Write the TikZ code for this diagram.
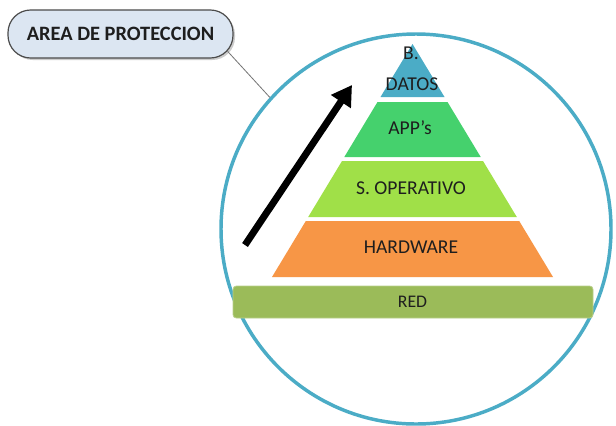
\documentclass[tikz,border=0pt]{standalone}
\usepackage{fontspec}
\setmainfont{Carlito}
\usetikzlibrary{arrows.meta,shadows}
\definecolor{ringblue}{RGB}{75,172,198}
\definecolor{topblue}{RGB}{75,172,198}
\definecolor{appgreen}{RGB}{69,209,109}
\definecolor{osgreen}{RGB}{160,224,72}
\definecolor{hworange}{RGB}{247,150,70}
\definecolor{redgreen}{RGB}{155,187,89}
\definecolor{boxfill}{RGB}{220,230,242}
\definecolor{txt}{RGB}{30,30,30}
\tikzset{
  lbl/.style={font=\fontsize{14.7}{17}\selectfont, text=txt, inner sep=0pt},
  smalllbl/.style={font=\fontsize{13.3}{16}\selectfont, text=txt, inner sep=0pt},
  areabox/.style={draw=black!70, line width=0.9pt, fill=boxfill, rounded corners=17pt,
    minimum width=168.75pt, minimum height=36pt, font=\bfseries\fontsize{15.3}{18}\selectfont,
    text=txt, drop shadow={shadow xshift=1.5pt, shadow yshift=-1.5pt, opacity=0.4}},
  conn/.style={draw=black!55, line width=0.6pt},
  ring/.style={draw=ringblue, line width=2.6pt, circle, minimum size=292.5pt, inner sep=0pt},
  bigarrow/.style={line width=5.2pt, -{Triangle[length=15pt, width=17pt]}},
}
\begin{document}
\begin{tikzpicture}[x=0.75pt,y=-0.75pt]
\useasboundingbox (0,0) rectangle (616,425);
\fill[white] (0,0) rectangle (616,425);
% circle
\node[ring] (circ) at (416,229) {};
% label box
\node[areabox] (box) at (120.5,34) {AREA DE PROTECCION};
\draw[conn] ([xshift=-4.5pt,yshift=-13pt]box.east) -- (circ.138.5);
% pyramid layers
\fill[topblue] (412.5,44) -- (444.5,97) -- (380.5,97) -- cycle;
\fill[appgreen] (377.5,102) -- (447.5,102) -- (480.7,157) -- (344.3,157) -- cycle;
\fill[osgreen] (342,161) -- (483,161) -- (516.8,217) -- (308.2,217) -- cycle;
\fill[hworange] (305.8,221) -- (519.2,221) -- (553,277) -- (272,277) -- cycle;
\fill[redgreen, draw=redgreen!70!white, line width=0.6pt, rounded corners=2.5pt] (233,286) rectangle (593,318);
% labels
\node[lbl] (bd1) at (411,53) {B.};
\node[lbl] (bd2) at (412,84) {DATOS};
\node[lbl] (app) at (410,128) {APP’s};
\node[lbl] (so) at (411,188) {S. OPERATIVO};
\node[lbl] (hw) at (411,247) {HARDWARE};
\node[smalllbl] (red) at (412.5,302) {RED};
% arrow
\coordinate (a1) at (245,245);
\coordinate (a2) at (352,85);
\draw[bigarrow] (a1) -- (a2);
\end{tikzpicture}
\end{document}
